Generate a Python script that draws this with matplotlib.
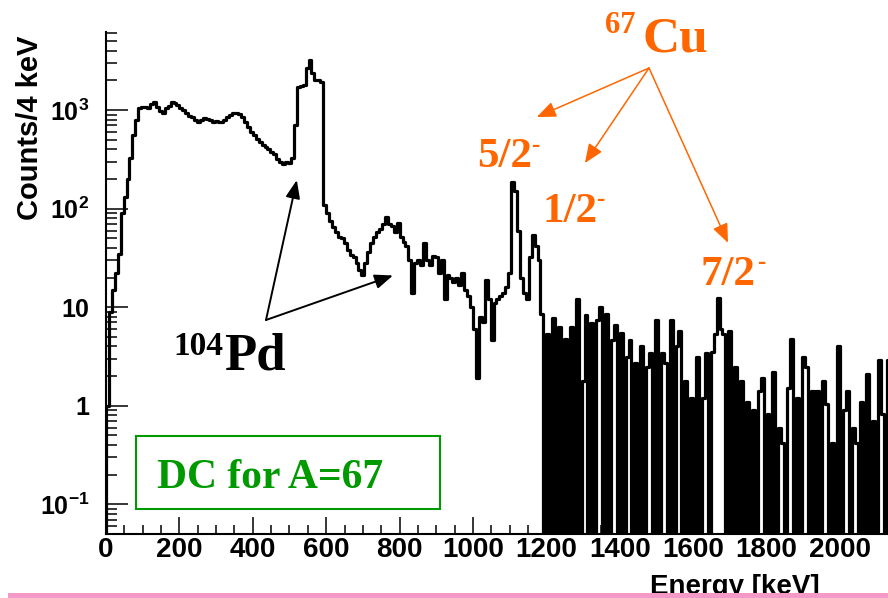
"""Doppler-corrected gamma spectrum for A=67 (log scale, ROOT-like look)."""
import matplotlib

matplotlib.use("Agg")
import matplotlib.pyplot as plt  # noqa: E402
import numpy as np
from matplotlib.patches import Rectangle
from matplotlib.ticker import FixedLocator, LogLocator, MultipleLocator, NullFormatter

W, H = 888, 598
ORANGE = "#ff6600"
GREEN = "#009900"
PINK = "#f59ac8"
SERIF = "Liberation Serif"

# counts / 4 keV in 8 keV steps
BIN_KEV = 8
counts_0_600 = [
    1.0, 9, 15, 22, 35, 90, 130, 200, 330, 560, 800, 1050,
    1070, 1080, 1060, 1150, 1200, 1080, 980, 930, 1050, 1100, 1200, 1180,
    1120, 1060, 1000, 940, 880, 850, 800, 760, 790, 830, 820, 800,
    760, 770, 750, 760, 800, 850, 900, 940, 930, 920, 860, 760,
    680, 600, 560, 510, 470, 440, 420, 400, 380, 360, 320, 300,
    285, 300, 290, 330, 700, 1700, 1750, 1800, 2700, 3200, 2400, 2000,
    2000, 1950, 110,
]
counts_600_1200 = [
    90, 75, 65, 58, 52, 50, 45, 38, 34, 32, 28, 24, 21, 28, 36, 45,
    52, 58, 62, 70, 82, 70, 66, 58, 72, 52, 46, 42, 30, 14, 28, 30,
    27, 45, 30, 27, 33, 32, 22, 30, 12, 21, 20, 18, 20, 17, 22, 15,
    13, 10, 6, 1.9, 8, 7, 19, 12, 4.6, 11, 12, 13, 14, 16, 22, 185,
    150, 60, 20, 14, 12, 32, 54, 42, 30, 8.6, 0,
]
counts_1200_2136 = [
    5.4, 0, 7.7, 0, 6.3, 0, 4.8, 0, 6.3, 0, 12, 0, 1.8, 8.3, 0, 6.9,
    0, 7.4, 10, 0, 8.6, 0, 4.7, 6.6, 0, 5.5, 0, 3.1, 4.7, 0, 2.7, 0,
    4, 0, 2.5, 3.4, 0, 7.4, 0, 3.4, 2.7, 0, 7.4, 0, 4, 5.8, 0, 1.8,
    0, 1.2, 0, 3.1, 0, 1.2, 3.4, 0, 3.5, 5.4, 12.5, 6, 5.4, 0, 5.8, 0,
    2.5, 0, 1.8, 0, 1.1, 0, 0.9, 0, 1.4, 1.9, 0, 0.83, 0, 2.2, 0, 0.6,
    0.42, 0, 1.5, 4.8, 0, 1.2, 0, 3.1, 2.5, 0, 1.4, 0, 1.4, 0, 1.8, 1.05,
    0, 0.42, 0, 4, 0, 0.9, 1.4, 0, 0.6, 0.42, 0, 1.1, 0, 2.1, 0, 0.7,
    0, 2.9, 0.83, 0, 2.9,
]

y_ticks = [0.1, 1, 10, 100, 1000]
y_ticklabels = ["$10^{-1}$", "1", "10", "$10^{2}$", "$10^{3}$"]

# arrow targets (keV, counts)
pd_lines = [(520, 195), (782, 21)]
cu_lines = [(1174, 850), (1305, 290), (1695, 45)]


def fx(x):
    return x / W


def fy(y):
    return 1 - y / H


plt.rcParams.update(
    {
        "font.family": "Liberation Sans",
        "font.weight": "bold",
        "mathtext.fontset": "custom",
        "mathtext.rm": "Liberation Sans:bold",
        "mathtext.it": "Liberation Sans:bold",
        "mathtext.bf": "Liberation Sans:bold",
    }
)

counts = np.array(counts_0_600 + counts_600_1200 + counts_1200_2136, dtype=float)
edges = np.arange(len(counts) + 1) * BIN_KEV
vals = np.where(counts > 0, counts, 1e-3)

fig = plt.figure(figsize=(W / 100, H / 100), dpi=100)
ax = fig.add_axes([fx(106), fy(534), (W - 106) / W, (534 - 32) / H])

ax.step(
    np.concatenate([[0], edges]),
    np.concatenate([[1e-3], vals, [vals[-1]]]),
    where="post",
    color="black",
    linewidth=2.3,
)

ax.set_yscale("log")
ax.set_ylim(0.05, 6200)
ax.set_xlim(0, 2131)

for side in ("top", "right"):
    ax.spines[side].set_visible(False)
for side in ("left", "bottom"):
    ax.spines[side].set_linewidth(1.5)

ax.xaxis.set_major_locator(MultipleLocator(200))
ax.xaxis.set_minor_locator(MultipleLocator(50))
ax.yaxis.set_major_locator(FixedLocator(y_ticks))
ax.set_yticklabels(y_ticklabels)
ax.yaxis.set_minor_locator(LogLocator(base=10, subs=np.arange(2, 10)))
ax.yaxis.set_minor_formatter(NullFormatter())

ax.tick_params(axis="x", which="major", direction="in", length=12, width=1.1, labelsize=20, pad=2)
ax.tick_params(axis="x", which="minor", direction="in", length=6.5, width=1.1)
ax.tick_params(axis="y", which="major", direction="in", length=16, width=1.1, labelsize=18, pad=12)
ax.tick_params(axis="y", which="minor", direction="in", length=8, width=1.1)

ax.set_ylabel("Counts/4 keV", fontsize=21, fontweight="bold", va="center")
ax.yaxis.set_label_coords((30 - 106) / 782, (534 - 128) / 502)
ax.set_xlabel("Energy [keV]", fontsize=20, fontweight="bold", ha="right", va="baseline")
ax.xaxis.set_label_coords((820 - 106) / 782, -(594.5 - 534) / 502)

# 104Pd label and arrows
fig.text(fx(173), fy(355), "104", family=SERIF, weight="bold", fontsize=24, color="black")
fig.text(fx(224), fy(370), "Pd", family=SERIF, weight="bold", fontsize=38, color="black")
for e, c in pd_lines:
    ax.annotate(
        "", xy=(e, c), xycoords="data",
        xytext=(fx(266), fy(320)), textcoords="figure fraction",
        arrowprops=dict(arrowstyle="-|>,head_length=0.55,head_width=0.22",
                        mutation_scale=20, color="black", lw=1.4,
                        shrinkA=0, shrinkB=0),
    )

# 67Cu label, arrows and spins
fig.text(fx(605), fy(33), "67", family=SERIF, weight="bold", fontsize=22, color=ORANGE)
fig.text(fx(642), fy(52), "Cu", family=SERIF, weight="bold", fontsize=37, color=ORANGE)
for e, c in cu_lines:
    ax.annotate(
        "", xy=(e, c), xycoords="data",
        xytext=(fx(649), fy(68)), textcoords="figure fraction",
        arrowprops=dict(arrowstyle="-|>,head_length=0.58,head_width=0.24",
                        mutation_scale=20, color=ORANGE, lw=1.1,
                        shrinkA=0, shrinkB=0),
    )

for txt, x0, base, dx, dy in [("5/2", 477, 167, 531, 152), ("1/2", 542, 222, 596, 206), ("7/2", 700, 285, 757, 269)]:
    fig.text(fx(x0), fy(base), txt, family=SERIF, weight="bold", fontsize=31, color=ORANGE)
    fig.text(fx(dx), fy(dy), "-", family=SERIF, weight="bold", fontsize=18, color=ORANGE)

# DC box
fig.add_artist(Rectangle((fx(136), fy(509)), (440 - 136) / W, (509 - 436) / H,
                         transform=fig.transFigure, fill=False, edgecolor=GREEN, linewidth=1.5))
fig.text(fx(157), fy(488), "DC for A=67", family=SERIF, weight="bold", fontsize=30, color=GREEN)

# pink slide rule at the bottom (covers the lower part of the x title, as in the slide)
fig.add_artist(Rectangle((fx(8), 0), (W - 8) / W, 5.5 / H, transform=fig.transFigure,
                         facecolor=PINK, edgecolor="none", zorder=10))

fig.savefig("out.png", dpi=100, facecolor="white")
plt.close(fig)
